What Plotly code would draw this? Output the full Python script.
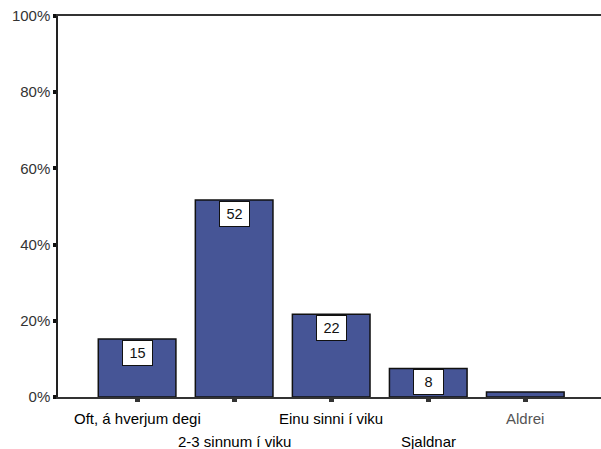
import plotly.graph_objects as go

categories = ["Oft, á hverjum degi", "2-3 sinnum í viku", "Einu sinni í viku", "Sjaldnar", "Aldrei"]
values = [15.2, 51.7, 21.7, 7.5, 1.3]
value_labels = ["15", "52", "22", "8", ""]
label_rows = [1, 2, 1, 2, 1]
label_colors = ["#000000", "#000000", "#000000", "#000000", "#555555"]
y_tickvals = [0, 20, 40, 60, 80, 100]
y_ticktext = ["0%", "20%", "40%", "60%", "80%", "100%"]

FONT = "Liberation Sans, Arial, sans-serif"

fig = go.Figure()
fig.add_trace(go.Bar(
    x=categories, y=values,
    marker=dict(color="#465596", line=dict(color="#111111", width=1.5)),
    hoverinfo="skip",
))

annotations = []
for cat, v, lab in zip(categories, values, value_labels):
    if lab:
        annotations.append(dict(
            x=cat, y=v, xref="x", yref="y", text=lab, showarrow=False,
            yanchor="top", yshift=-1,
            font=dict(family=FONT, size=14.5, color="#111111"),
            bgcolor="white", bordercolor="#111111", borderwidth=1,
            borderpad=1, width=27, height=22,
        ))
for cat, row, col in zip(categories, label_rows, label_colors):
    annotations.append(dict(
        x=cat, y=0, xref="x", yref="paper", text=cat, showarrow=False,
        yanchor="middle", yshift=-21 if row == 1 else -44,
        font=dict(family=FONT, size=15, color=col),
    ))

fig.update_layout(
    width=601, height=449,
    margin=dict(l=58, r=0, t=16, b=52),
    paper_bgcolor="white", plot_bgcolor="white",
    showlegend=False, bargap=0.2,
    annotations=annotations,
    xaxis=dict(
        type="category", range=[-0.815, 4.78],
        showline=True, linecolor="#333333", linewidth=1.5, mirror=True,
        ticks="outside", ticklen=3, tickwidth=5, tickcolor="#333333",
        showticklabels=False, showgrid=False, zeroline=False,
    ),
    yaxis=dict(
        range=[0, 100], tickvals=y_tickvals, ticktext=y_ticktext,
        showline=True, linecolor="#222222", linewidth=1.5,
        ticks="outside", ticklen=3, tickwidth=4, tickcolor="#111111",
        tickfont=dict(family=FONT, size=15, color="#333333"),
        ticklabeloverflow="allow",
        showgrid=False, zeroline=False,
    ),
)

fig.write_html(
    "out.html",
    config={"displayModeBar": False},
    post_script=(
        "document.documentElement.style.margin='0';"
        "document.documentElement.style.overflow='hidden';"
        "document.body.style.margin='0';"
        "document.body.style.overflow='hidden';"
    ),
)
